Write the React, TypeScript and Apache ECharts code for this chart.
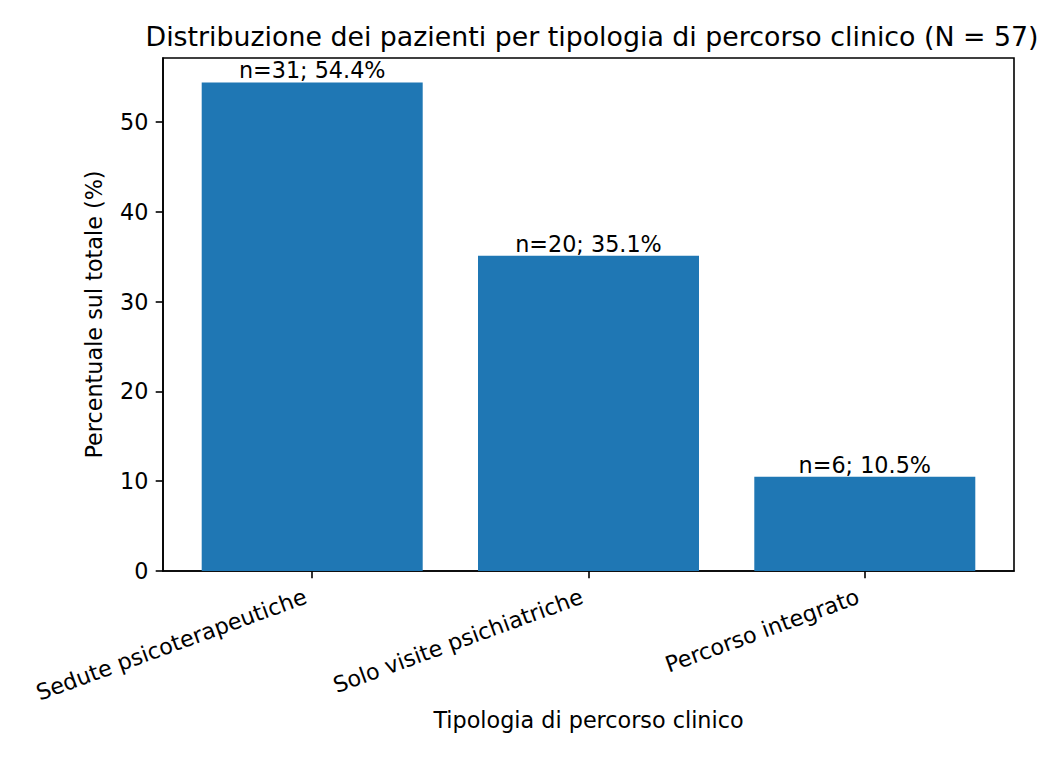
import React, { useEffect, useRef } from 'react';
import * as echarts from 'echarts';

// data
const categories = ['Sedute psicoterapeutiche', 'Solo visite psichiatriche', 'Percorso integrato'];
const counts = [31, 20, 6];
const percents = [54.4, 35.1, 10.5];
const yTicks = [0, 10, 20, 30, 40, 50];
const xTicks = [0, 1, 2];
const total = 57;

const FONT = 'DejaVu Sans';
const FS = 22.3;

const App: React.FC = () => {
  const chartRef = useRef<HTMLDivElement>(null);

  useEffect(() => {
    const chart = echarts.init(chartRef.current!, undefined, { renderer: 'svg' });

    const options = {
      animation: false,
      textStyle: { fontFamily: FONT },
      title: {
        text: `Distribuzione dei pazienti per tipologia di percorso clinico (N = ${total})`,
        left: 587,
        textAlign: 'center',
        top: 18,
        textStyle: { fontFamily: FONT, fontSize: 26.8, fontWeight: 'normal', color: '#000' },
      },
      grid: {
        left: 163,
        right: 24,
        top: 58,
        bottom: 187,
        show: true,
        borderColor: '#000',
        borderWidth: 1.6,
      },
      xAxis: {
        type: 'value',
        min: -0.54,
        max: 2.54,
        name: 'Tipologia di percorso clinico',
        nameLocation: 'middle',
        nameGap: 136,
        nameTextStyle: { fontFamily: FONT, fontSize: FS, color: '#000' },
        splitLine: { show: false },
        axisLine: { show: true, onZero: false, lineStyle: { color: '#000', width: 1.6 } },
        axisTick: {
          show: true,
          customValues: xTicks,
          length: 7.3,
          lineStyle: { color: '#000', width: 1.6 },
        },
        axisLabel: {
          customValues: xTicks,
          rotate: 20,
          margin: 22,
          padding: [0, 7, 0, 0],
          fontFamily: FONT,
          fontSize: FS,
          color: '#000',
          formatter: (v: number) => categories[Math.round(v)] ?? '',
        },
      },
      yAxis: {
        type: 'value',
        min: 0,
        max: percents[0] * 1.05,
        name: 'Percentuale sul totale (%)',
        nameLocation: 'middle',
        nameGap: 58,
        nameTextStyle: { fontFamily: FONT, fontSize: FS, color: '#000' },
        splitLine: { show: false },
        axisLine: { show: true, onZero: false, lineStyle: { color: '#000', width: 1.6 } },
        axisTick: {
          show: true,
          customValues: yTicks,
          length: 7.3,
          lineStyle: { color: '#000', width: 1.6 },
        },
        axisLabel: {
          customValues: yTicks,
          margin: 14.6,
          fontFamily: FONT,
          fontSize: FS,
          color: '#000',
        },
      },
      series: [
        {
          type: 'bar',
          barWidth: 221,
          itemStyle: { color: '#1f77b4' },
          label: {
            show: true,
            position: 'top',
            distance: 1,
            fontFamily: FONT,
            fontSize: FS,
            color: '#000',
            formatter: (p: any) => `n=${counts[p.dataIndex]}; ${percents[p.dataIndex].toFixed(1)}%`,
          },
          data: percents.map((v, i) => [i, v]),
        },
      ],
    };

    chart.setOption(options);

    return () => {
      chart.dispose();
    };
  }, []);

  return (
    <div
      ref={chartRef}
      style={{ position: 'fixed', left: 0, top: 0, width: '1038px', height: '758px', background: '#fff' }}
    />
  );
};

export default App;
